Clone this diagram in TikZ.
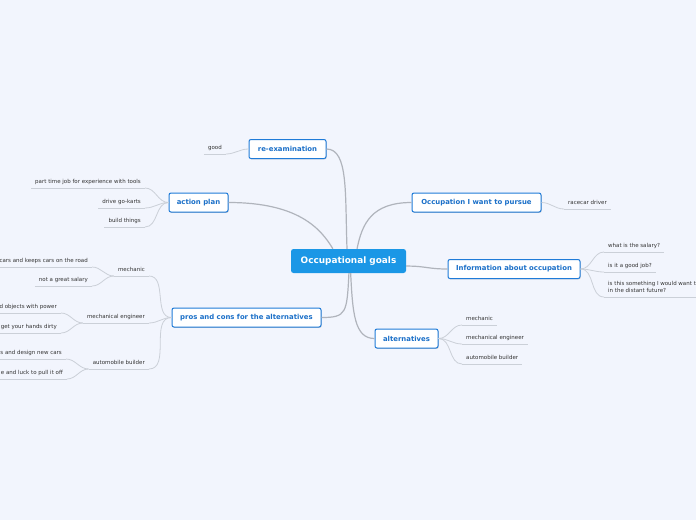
\documentclass[tikz,border=0pt]{standalone}
\usepackage{fontspec}
\setmainfont{DejaVu Sans}
\usetikzlibrary{shadows}

\definecolor{pagebg}{HTML}{F2F5FD}
\definecolor{rootblue}{HTML}{1B97E6}
\definecolor{frameblue}{HTML}{1F7BD8}
\definecolor{labelblue}{HTML}{1A6FC8}
\definecolor{leaftext}{HTML}{333333}
\definecolor{branchgray}{HTML}{B0B4BC}
\definecolor{twiggray}{HTML}{CBD0D8}

\begin{document}
\begin{tikzpicture}[x=1pt, y=-1pt,
    root/.style={fill=rootblue, rounded corners=2.5pt, text=white, font=\fontsize{8.9}{10}\selectfont\bfseries, minimum width=115pt, minimum height=24pt, inner sep=0pt},
    topic/.style={draw=frameblue, line width=1pt, fill=white, rounded corners=2pt, text=labelblue, font=\fontsize{6.9}{8}\selectfont\bfseries, minimum height=19pt, inner sep=0pt, drop shadow={shadow xshift=0.6pt, shadow yshift=-0.9pt, opacity=0.3, fill=black!60}},
    leaf/.style={text=leaftext, font=\fontsize{5.5}{7}\selectfont, inner xsep=4pt, inner ysep=2.8pt, text height=4pt, text depth=1.5pt, append after command={\pgfextra{\let\leafnode\tikzlastnode} (\leafnode.south west) edge[twig] (\leafnode.south east)}},
    lleaf/.style={leaf, anchor=south east},
    rleaf/.style={leaf, anchor=south west},
    branch/.style={draw=branchgray, line width=1.2pt},
    twig/.style={draw=twiggray, line width=0.8pt}]

    \useasboundingbox (0,0) rectangle (696,520);
    \fill[pagebg] (0,0) rectangle (696,520);

    % Main topics
    \node[root] (root) at (348.5,261) {Occupational goals};
    \node[topic, minimum width=77pt] (reexam) at (287.5,149) {re-examination};
    \node[topic, minimum width=59pt] (action) at (198.5,202.5) {action plan};
    \node[topic, minimum width=149pt] (pros) at (246.5,317.5) {pros and cons for the alternatives};
    \node[topic, minimum width=129pt] (occ) at (476.5,202.5) {Occupation I want to pursue};
    \node[topic, minimum width=132pt] (info) at (514,269) {Information about occupation};
    \node[topic, minimum width=63pt] (alt) at (406.5,338.5) {alternatives};

    \draw[branch] (reexam.east) .. controls +(22,0) and +(-2,-55) .. (root.97);
    \draw[branch] (action.east) .. controls +(70,0) and +(-12,-20) .. (root.142);
    \draw[branch] (occ.west) .. controls +(-40,0) and +(5,-25) .. (root.55);
    \draw[branch] (info.west) .. controls +(-20,0) and +(20,0) .. (root.-5);
    \draw[branch] (pros.east) .. controls +(25,0) and +(-2,40) .. (root.-88);
    \draw[branch] (alt.west) .. controls +(-20,0) and +(2,40) .. (root.-80);

    % Left side
    \node[lleaf] (good) at (226,154) {good};
    \draw[twig] (reexam.west) to[out=180,in=0] (good.south east);

    \node[lleaf] (job) at (145,188) {part time job for experience with tools};
    \node[lleaf] (karts) at (145,208) {drive go-karts};
    \node[lleaf] (things) at (145,227) {build things};
    \draw[twig] (action.west) to[out=180,in=0] (job.south east);
    \draw[twig] (action.west) to[out=180,in=0] (karts.south east);
    \draw[twig] (action.west) to[out=180,in=0] (things.south east);

    \node[lleaf] (mechL) at (149,276) {mechanic};
    \node[lleaf] (engL) at (149,323) {mechanical engineer};
    \node[lleaf] (autoL) at (149,369) {automobile builder};
    \draw[twig] (pros.west) to[out=180,in=0] (mechL.south east);
    \draw[twig] (pros.west) to[out=180,in=0] (engL.south east);
    \draw[twig] (pros.west) to[out=180,in=0] (autoL.south east);

    \node[lleaf] (road) at (92,267) {cars and keeps cars on the road};
    \node[lleaf] (salaryL) at (92,286) {not a great salary};
    \draw[twig] (mechL.south west) to[out=180,in=0] (road.south east);
    \draw[twig] (mechL.south west) to[out=180,in=0] (salaryL.south east);

    \node[lleaf] (power) at (61,313) {d objects with power};
    \node[lleaf] (dirty) at (61,333) {get your hands dirty};
    \draw[twig] (engL.south west) to[out=180,in=0] (power.south east);
    \draw[twig] (engL.south west) to[out=180,in=0] (dirty.south east);

    \node[lleaf] (newcars) at (66,359) {s and design new cars};
    \node[lleaf] (luck) at (67,379) {e and luck to pull it off};
    \draw[twig] (autoL.south west) to[out=180,in=0] (newcars.south east);
    \draw[twig] (autoL.south west) to[out=180,in=0] (luck.south east);

    % Right side
    \node[rleaf] (racecar) at (564,209) {racecar driver};
    \draw[twig] (occ.east) to[out=0,in=180] (racecar.south west);

    \node[rleaf] (salary) at (604,252) {what is the salary?};
    \node[rleaf] (goodjob) at (604,272) {is it a good job?};
    \node[rleaf, align=left, text height=11pt] (future) at (604,297) {is this something I would want t\\in the distant future?};
    \draw[twig] (info.east) to[out=0,in=180] (salary.south west);
    \draw[twig] (info.east) to[out=0,in=180] (goodjob.south west);
    \draw[twig] (info.east) to[out=0,in=180] (future.south west);

    \node[rleaf] (mechR) at (462,325) {mechanic};
    \node[rleaf] (engR) at (462,344) {mechanical engineer};
    \node[rleaf] (autoR) at (462,364) {automobile builder};
    \draw[twig] (alt.east) to[out=0,in=180] (mechR.south west);
    \draw[twig] (alt.east) to[out=0,in=180] (engR.south west);
    \draw[twig] (alt.east) to[out=0,in=180] (autoR.south west);
\end{tikzpicture}
\end{document}
